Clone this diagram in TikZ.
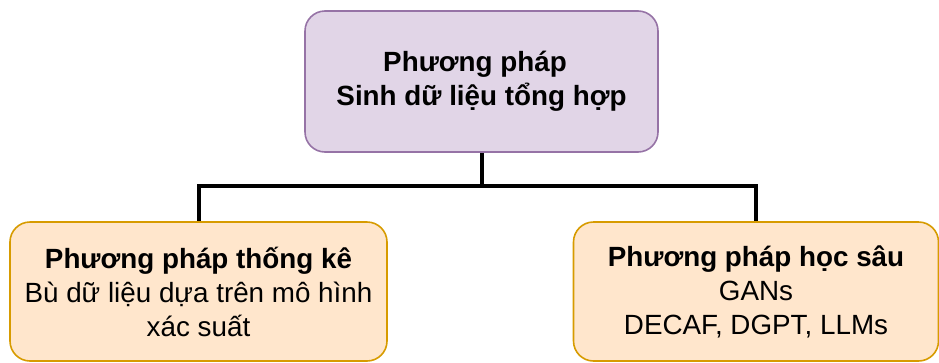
\documentclass[tikz,border=0pt]{standalone}
\usepackage{fontspec}
\setmainfont{Liberation Sans}
\definecolor{rootfill}{HTML}{E1D5E7}
\definecolor{rootline}{HTML}{9673A6}
\definecolor{leaffill}{HTML}{FFE6CC}
\definecolor{leafline}{HTML}{D79B00}
\begin{document}
\begin{tikzpicture}[x=1pt,y=-1pt,
  box/.style={draw, line width=1.6pt, rounded corners=20pt, align=center,
    inner sep=0pt, font=\fontsize{27.8}{34}\selectfont},
  rootbox/.style={box, fill=rootfill, draw=rootline,
    minimum width=353pt, minimum height=141pt},
  leafbox/.style={box, fill=leaffill, draw=leafline, minimum height=139pt},
  link/.style={draw=black, line width=4pt}]
\useasboundingbox (0,0) rectangle (939,362);
\node[rootbox] (root) at (481.5,81.5)
  {\textbf{Phương pháp}\hspace*{13pt}\\\textbf{Sinh dữ liệu tổng hợp}};
\node[leafbox, minimum width=377pt] (stat) at (198.5,291.5)
  {\textbf{Phương pháp thống kê}\\Bù dữ liệu dựa trên mô hình\\xác suất};
\node[leafbox, minimum width=365pt] (deep) at (756,291.5)
  {\textbf{Phương pháp học sâu}\\GANs\\DECAF, DGPT, LLMs};
\coordinate (bus) at (481.5,186);
\draw[link] (root.south) -- (bus);
\draw[link] (bus) -| (stat.north);
\draw[link] (bus) -| (deep.north);
\end{tikzpicture}
\end{document}
